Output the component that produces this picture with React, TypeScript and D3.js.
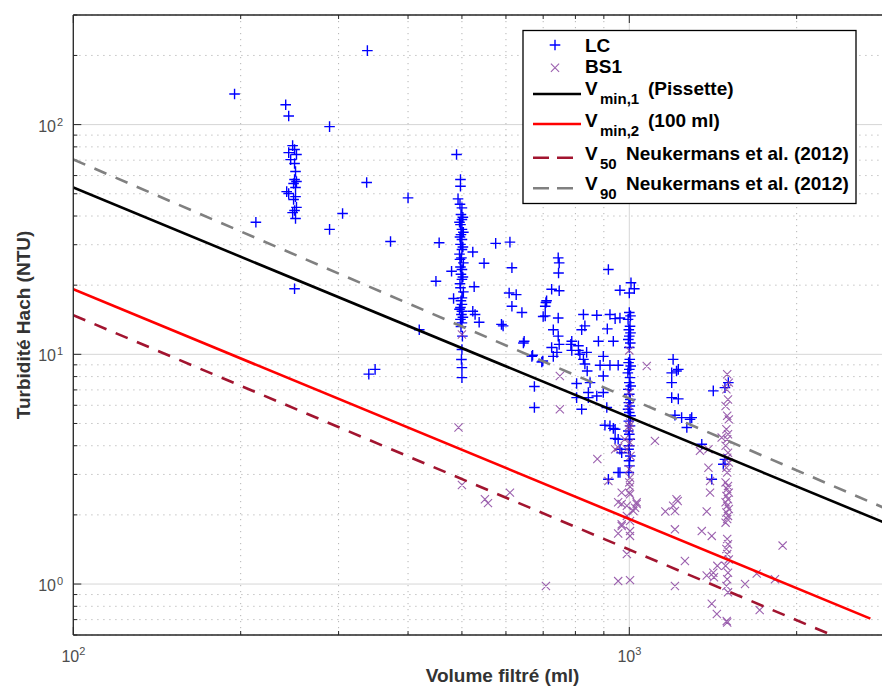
import React from 'react';
import * as d3 from 'd3';

// ---------- DATA ----------
// LC samples: [volume filtré (ml), turbidité (NTU)]
const lcPoints: [number, number][] = [
  [195, 136], [241, 122], [244, 109], [338, 210], [289, 98], [337, 56], [400, 48], [305, 41],
  [213, 37.6], [289, 35], [372, 31], [250, 19.3], [340, 8.2], [349, 8.6],
  [248, 81], [250, 77.9], [244, 75.5], [252, 74.1], [246, 70.4], [250, 67.7], [251, 62.5],
  [250, 57.7], [252, 56.5], [249, 55.4], [251, 53.2], [242, 51.1], [244, 50.1], [251, 48.6],
  [249, 47.2], [252, 43.6], [250, 42.3], [248, 41.4], [251, 39],
  [489, 74.1], [497, 57.7], [497, 53.9], [492, 47.5], [500, 43.4], [498, 40.6], [500, 38.6],
  [497, 36.7], [500, 35], [498, 33.2], [500, 31.6], [497, 30.1], [500, 28.6], [499, 26.3],
  [496, 25.9], [500, 23.4], [498, 22.3], [500, 21.2], [497, 19.5], [500, 17.6], [498, 17.1],
  [500, 16.5], [497, 16], [500, 15.4], [499, 14.9], [497, 14.2], [500, 13.7], [501, 12],
  [500, 10.5], [499, 9.5], [500, 8.75], [500, 7.92],
  [496, 45], [502, 39.5], [495, 37.6], [503, 34], [496, 32.4], [502, 29.3], [495, 27.3],
  [503, 25], [497, 24], [502, 21.7], [496, 20.3], [503, 18.7], [495, 15.7], [502, 14.5], [498, 13.2],
  [455, 30.6], [449, 20.8], [479, 23], [483, 17.5], [523, 27.9], [548, 24.9], [526, 19.7],
  [523, 15.4], [528, 14.9], [537, 13.8], [575, 30.4], [610, 30.8], [615, 23.8], [608, 18.5],
  [626, 18.2], [615, 16.2], [641, 15.2], [589, 13.5], [647, 11.4], [670, 9.9], [699, 9.35],
  [675, 7.24], [675, 5.87], [419, 12.8], [708, 16.8], [706, 14.7],
  [745, 26.3], [748, 25], [746, 22.6], [917, 23.4], [1007, 20.5], [1021, 19.3], [962, 19],
  [1000, 18.5], [725, 19.2], [748, 18.9], [710, 17.1], [706, 16.2], [593, 13.3], [700, 14.6],
  [745, 14.4], [730, 12.8], [745, 12], [748, 11.05], [827, 14.9], [874, 14.8], [832, 13.3],
  [821, 12.8], [923, 14.9], [943, 14.3], [962, 14.4], [913, 12.9], [880, 11.4], [936, 11.4],
  [788, 11.4], [785, 11.05], [810, 10.9], [810, 10.4], [838, 10.2], [725, 10.7], [730, 9.8],
  [645, 11.2], [668, 9.8], [696, 9.26], [741, 10.2], [788, 10.4], [815, 10], [827, 9.51],
  [832, 9.07], [840, 8.46], [886, 8.96], [898, 9.8], [923, 8.96], [955, 8.96], [898, 8.05],
  [850, 7.53], [844, 6.82], [804, 7.46], [804, 6.48], [821, 5.77], [844, 6.48], [874, 6.59],
  [898, 6.82], [911, 5.87], [923, 4.88], [943, 4.72], [955, 4.27], [917, 2.86], [955, 3.06],
  [1000, 15.2], [1005, 14.7], [995, 14.2], [1003, 13.25], [998, 12.8], [1005, 12.4], [1000, 12],
  [996, 11.6], [1004, 11.2], [1000, 10.7], [1002, 9.51], [997, 9.2], [1006, 8.9], [1000, 8.6],
  [994, 8.3], [1003, 7.92], [1000, 7.53], [1006, 7.28], [996, 7.04], [1000, 6.7], [1004, 6.36],
  [998, 6.16], [1002, 5.96], [995, 5.77], [1000, 5.58], [1005, 5.4], [998, 5.12], [1003, 4.88],
  [996, 4.64], [1000, 4.49], [1002, 4.27], [1000, 4.0], [997, 3.86], [1004, 3.61], [999, 3.44],
  [1001, 3.27], [998, 3.06],
  [904, 4.91], [936, 4.76], [943, 4.3], [962, 3.86], [969, 3.73], [962, 3.06],
  [1199, 9.51], [1216, 8.46], [1192, 8.3], [1192, 7.53], [1192, 6.48], [1225, 6.4], [1208, 5.43],
  [1242, 5.3], [1286, 5.21], [1269, 4.8], [1350, 4.06], [1407, 2.86], [1416, 6.93], [1486, 7.16],
  [1507, 7.53], [1486, 3.49], [1476, 3.32], [1225, 8.6], [1295, 5.3],
];

// BS1 samples: [volume filtré (ml), turbidité (NTU)]
const bs1Points: [number, number][] = [
  [493, 4.8], [500, 12.2], [750, 8.05], [750, 5.77], [1075, 8.9], [1000, 10.4], [1112, 4.2],
  [876, 3.5], [917, 2.81], [955, 3.93], [1000, 4.88], [1000, 5.96], [1000, 4.72], [1003, 4.13],
  [1000, 3.16], [610, 2.5], [1000, 2.5], [1031, 2.23], [1216, 2.34], [1199, 2.19], [1340, 3.8],
  [981, 4.27], [500, 2.7], [550, 2.34], [557, 2.25], [708, 0.98],
  [955, 2.27], [969, 2.5], [990, 2.19], [1017, 2.08], [1031, 2.27], [990, 1.98], [1003, 1.88],
  [969, 1.79], [1003, 1.7], [955, 1.66], [1003, 1.62], [990, 1.35], [955, 1.03], [1003, 1.04],
  [1003, 2.65], [1003, 2.9], [1000, 6.82], [1003, 5.04], [990, 3.86], [1005, 3.61], [1000, 2.77],
  [1003, 2.46], [943, 3.86], [969, 2.23], [1024, 2.15], [969, 1.82],
  [1161, 2.07], [1208, 2.08], [1222, 2.3], [1208, 1.73], [1259, 1.26], [1208, 0.98],
  [1350, 1.7], [1378, 2.07], [1407, 1.62], [1397, 2.5], [1378, 1.09], [1416, 1.12], [1407, 0.82],
  [1437, 0.74], [1497, 0.69], [1388, 3.21], [1397, 2.81], [1388, 3.86], [1466, 4.34], [1440, 1.2],
  [1420, 1.07],
  [1500, 8.19], [1510, 7.53], [1495, 7.04], [1505, 6.36], [1490, 5.96], [1500, 5.4], [1510, 5.21],
  [1495, 4.72], [1505, 4.49], [1500, 4.27], [1490, 4.0], [1505, 3.73], [1500, 3.55], [1510, 3.38],
  [1495, 3.21], [1500, 3.06], [1490, 2.77], [1505, 2.67], [1500, 2.59], [1510, 2.5], [1495, 2.42],
  [1505, 2.34], [1490, 2.27], [1500, 2.19], [1510, 2.12], [1495, 2.05], [1505, 1.98], [1500, 1.92],
  [1490, 1.85], [1500, 1.57], [1505, 1.49], [1495, 1.42], [1500, 1.35], [1510, 1.28], [1490, 1.2],
  [1505, 1.12], [1500, 1.05], [1495, 0.98], [1505, 0.92], [1500, 0.68],
  [1615, 1.0], [1695, 1.11], [1828, 1.05], [1887, 1.47], [1716, 0.77],
];

// Threshold lines (end points, volume -> turbidity)
const vmin1Volume = [100, 4000];
const vmin1Turb = [53.2, 1.33];
const vmin2Volume = [100, 2714];
const vmin2Turb = [19.2, 0.707];
const v50Volume = [100, 4000];
const v50Turb = [14.8, 0.343];
const v90Volume = [100, 4000];
const v90Turb = [70.5, 1.52];

const yTickExponents = [0, 1, 2];
const xTickExponents = [2, 3];

const legendLabels = ['LC', 'BS1'];
const legendLineLabels = [
  { sub: 'min,1', text: '(Pissette)' },
  { sub: 'min,2', text: '(100 ml)' },
  { sub: '50', text: 'Neukermans et al. (2012)' },
  { sub: '90', text: 'Neukermans et al. (2012)' },
];

const FONT = "'Liberation Sans', Arial, Helvetica, sans-serif";

export default function App() {
  const W = 882, H = 687;
  const L = 73.3, T = 15, B = 635, R = 931.8;
  const x = d3.scaleLog().domain([100, 3500]).range([L, R]);
  const y = d3.scaleLog().domain([0.6, 300]).range([B, T]);

  const isMajor = (v: number) => Math.abs(Math.log10(v) - Math.round(Math.log10(v))) < 1e-9;
  const yTicks = y.ticks();
  const xTicks = x.ticks();

  const line = d3.line<[number, number]>().x(d => x(d[0])).y(d => y(d[1]));
  const mk = (vs: number[], ts: number[]) => vs.map((v, i) => [v, ts[i]] as [number, number]);

  const lines = [
    { d: mk(vmin1Volume, vmin1Turb), color: '#000000', dash: undefined },
    { d: mk(vmin2Volume, vmin2Turb), color: '#ff0000', dash: undefined },
    { d: mk(v50Volume, v50Turb), color: '#a2142f', dash: '13,10' },
    { d: mk(v90Volume, v90Turb), color: '#808080', dash: '13,10' },
  ];

  const plus = (cx: number, cy: number, s = 5.3) =>
    `M${cx - s},${cy}H${cx + s}M${cx},${cy - s}V${cy + s}`;
  const cross = (cx: number, cy: number, s = 4.1) =>
    `M${cx - s},${cy - s}L${cx + s},${cy + s}M${cx - s},${cy + s}L${cx + s},${cy - s}`;

  const legendLineY = [94, 124, 157.7, 188.3];
  const legendTextY = [95, 126.7, 160, 190];
  const bsColor = '#8a44a0';

  return (
    <svg width={W} height={H} style={{ position: 'absolute', left: 0, top: 0, background: '#fff' }}
      fontFamily={FONT}>
      <defs>
        <clipPath id="plotclip">
          <rect x={L} y={T} width={W - L} height={B - T} />
        </clipPath>
      </defs>
      <rect x={0} y={0} width={W} height={H} fill="#fff" />

      {/* grid */}
      <g>
        {yTicks.map((v, i) => (
          <line key={'gy' + i} x1={L} x2={W} y1={y(v)} y2={y(v)}
            stroke={isMajor(v) ? '#d6d6d6' : '#b5b5b5'} strokeWidth={1}
            strokeDasharray={isMajor(v) ? undefined : '1.2,4.8'} />
        ))}
        {xTicks.map((v, i) => (
          <line key={'gx' + i} x1={x(v)} x2={x(v)} y1={T} y2={B}
            stroke={isMajor(v) ? '#d6d6d6' : '#b5b5b5'} strokeWidth={1}
            strokeDasharray={isMajor(v) ? undefined : '1.2,4.8'} />
        ))}
      </g>

      {/* ticks */}
      <g stroke="#262626" strokeWidth={1}>
        {yTicks.map((v, i) => (
          <line key={'ty' + i} x1={L} x2={L + (isMajor(v) ? 8 : 4)} y1={y(v)} y2={y(v)} />
        ))}
        {xTicks.map((v, i) => (
          <g key={'tx' + i}>
            <line x1={x(v)} x2={x(v)} y1={B} y2={B - (isMajor(v) ? 8 : 4)} />
            <line x1={x(v)} x2={x(v)} y1={T} y2={T + (isMajor(v) ? 8 : 4)} />
          </g>
        ))}
      </g>

      {/* data markers */}
      <g clipPath="url(#plotclip)">
        <path d={lcPoints.map(p => plus(x(p[0]), y(p[1]))).join('')}
          stroke="#0000ff" strokeWidth={1.4} fill="none" />
        <path d={bs1Points.map(p => cross(x(p[0]), y(p[1]))).join('')}
          stroke={bsColor} strokeWidth={1.1} fill="none" opacity={0.85} />
        {lines.map((l, i) => (
          <path key={'l' + i} d={line(l.d) || ''} stroke={l.color} strokeWidth={2.6} fill="none"
            strokeDasharray={l.dash} />
        ))}
      </g>

      {/* axes frame */}
      <g stroke="#262626" strokeWidth={1.3} fill="none">
        <line x1={L} x2={L} y1={T} y2={B} />
        <line x1={L} x2={W} y1={B} y2={B} />
        <line x1={L} x2={W} y1={T} y2={T} />
      </g>

      {/* tick labels */}
      <g fill="#4d4d4d" fontSize={16}>
        {yTickExponents.map(e => (
          <text key={'ly' + e} x={56} y={y(Math.pow(10, e)) + 7} textAnchor="end">
            10
            <tspan x={57} y={y(Math.pow(10, e)) + 1} fontSize={11} textAnchor="start">{e}</tspan>
          </text>
        ))}
        {xTickExponents.map(e => (
          <text key={'lx' + e} x={x(Math.pow(10, e)) - 3} y={662} textAnchor="middle">
            10
            <tspan x={x(Math.pow(10, e)) + 6} y={655} fontSize={11} textAnchor="start">{e}</tspan>
          </text>
        ))}
      </g>

      {/* axis labels */}
      <text transform={`translate(30,${(T + B) / 2}) rotate(-90)`} textAnchor="middle"
        fontSize={19} fontWeight="bold" fill="#333">Turbidité Hach (NTU)</text>
      <text x={(L + R) / 2} y={682} textAnchor="middle" fontSize={19} fontWeight="bold"
        fill="#333">Volume filtré (ml)</text>

      {/* legend */}
      <g>
        <rect x={523} y={30.5} width={333} height={173} fill="#fff" stroke="#000" strokeWidth={1.3} />
        <path d={plus(555, 45)} stroke="#0000ff" strokeWidth={1.4} fill="none" />
        <path d={cross(555, 67.7)} stroke={bsColor} strokeWidth={1.1} fill="none" opacity={0.85} />
        <text x={585} y={51.7} fontSize={19} fontWeight="bold" fill="#000">{legendLabels[0]}</text>
        <text x={585} y={73.3} fontSize={19} fontWeight="bold" fill="#000">{legendLabels[1]}</text>
        {legendLineLabels.map((lab, i) => (
          <g key={'lg' + i}>
            <line x1={533} x2={581} y1={legendLineY[i]} y2={legendLineY[i]} stroke={lines[i].color}
              strokeWidth={2.6} strokeDasharray={lines[i].dash ? '16,8' : undefined} />
            <text x={585} y={legendTextY[i]} fontSize={19} fontWeight="bold" fill="#000">
              V
              <tspan x={600} y={legendTextY[i] + 9} fontSize={15}>{lab.sub}</tspan>
              <tspan x={lab.sub.length > 2 ? 648 : 626} y={legendTextY[i]}>{lab.text}</tspan>
            </text>
          </g>
        ))}
      </g>
    </svg>
  );
}
